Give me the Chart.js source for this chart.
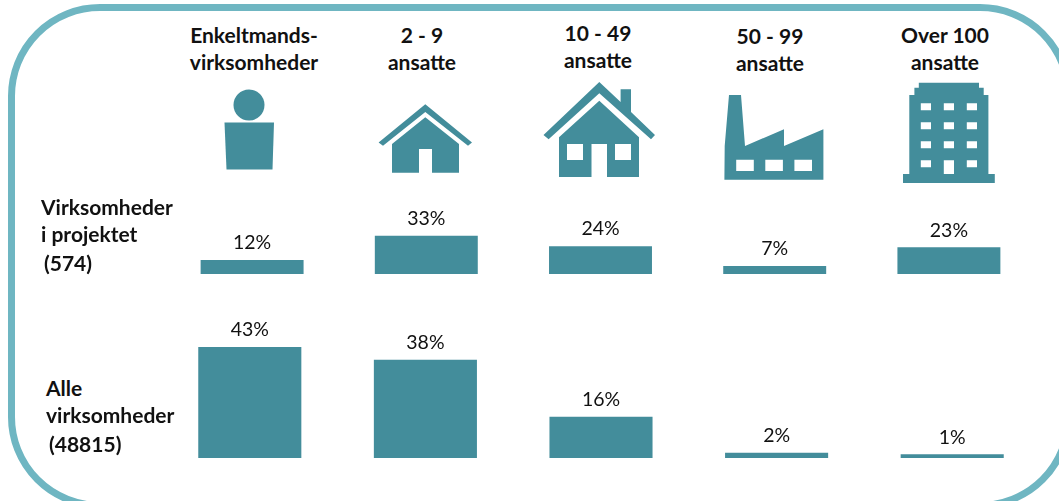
<!DOCTYPE html>
<html lang="da">
<head>
<meta charset="utf-8">
<title>Virksomheder i projektet</title>
<script src="https://cdn.jsdelivr.net/npm/chart.js@4/dist/chart.umd.min.js"></script>
<style>
  html, body { margin: 0; padding: 0; background: #fff; }
  body { position: relative; width: 1059px; height: 501px; overflow: hidden; font-family: Lato, sans-serif; color: #111; }
  #frame { position: absolute; left: 8px; top: 4px; width: 1064px; height: 505px; box-sizing: border-box;
           border: 7px solid #6fb6c2; border-radius: 92px; }
  canvas { position: absolute; }
  #icons { position: absolute; left: 0; top: 0; }
  .txt { position: absolute; font-weight: 700; font-size: 21px; line-height: 24px; white-space: nowrap; }
  .head { transform: translate(-50%, -50%); }
  .row { transform: translateY(-50%); }
</style>
</head>
<body>
<div id="frame"></div>

<!-- icons for the five size groups -->
<svg id="icons" width="1059" height="501" fill="#438d9b" aria-hidden="true">
  <!-- person -->
  <circle cx="249" cy="105" r="15.5"/>
  <path d="M224.5 122.5H274L272.5 169.5H226.5Z"/>
  <!-- small house -->
  <path d="M378.6 142.5L425.3 104.3L472 142.5L468 145.7L425.3 112L383 145.7Z"/>
  <path d="M425.3 117.3L459 144V172.7H432V149H419V172.7H392V144Z"/>
  <!-- big house -->
  <path d="M543.5 135L599.3 82L620.6 102V89.3H631V112L655 135L651 139.3L599.3 93.3L548.6 139.3Z"/>
  <path fill-rule="evenodd" d="M599.3 100.7L639 137.3V177H607V144H591.5V177H559V137.3Z M567 144H583V160H567Z M615 144H631V160H615Z"/>
  <!-- factory -->
  <path fill-rule="evenodd" d="M729 95H741L745 146L784 129.3V146L823.4 129.3V179.7H724.4L724.7 146Z M736.2 159.7H753.8V171H736.2Z M765.3 159.7H782.9V171H765.3Z M794.4 159.7H812V171H794.4Z"/>
  <!-- office block -->
  <path d="M903 174H994.8V183H903Z"/>
  <path fill-rule="evenodd" d="M918.8 82.7H979V87.7H983.7V95H988.4V174H909.3V95H914.4V87.7H918.8Z
    M920.8 103.3H931V110.3H920.8Z M943.8 103.3H954V110.3H943.8Z M966.8 103.3H977V110.3H966.8Z
    M920.8 122.3H931V129.3H920.8Z M943.8 122.3H954V129.3H943.8Z M966.8 122.3H977V129.3H966.8Z
    M920.8 141.3H931V148.3H920.8Z M943.8 141.3H954V148.3H943.8Z M966.8 141.3H977V148.3H966.8Z
    M920.8 160.3H931V167.3H920.8Z M943.8 160.3H954V174H943.8Z M966.8 160.3H977V167.3H966.8Z"/>
</svg>

<canvas id="projectChart" width="871" height="74" style="left:165px;top:200px"></canvas>
<canvas id="allChart" width="878" height="138" style="left:162px;top:320px"></canvas>

<script>
// category headers, one entry per column
const categories = [
  ["Enkeltmands-", "virksomheder"],
  ["2 - 9", "ansatte"],
  ["10 - 49", "ansatte"],
  ["50 - 99", "ansatte"],
  ["Over 100", "ansatte"]
];
const projectShare = [12, 33, 24, 7, 23];
const allShare = [43, 38, 16, 2, 1];
const projectRowLabel = ["Virksomheder", "i projektet", " (574)"];
const allRowLabel = ["Alle", "virksomheder", " (48815)"];

// layout of the text around the charts
const headX = [254, 422, 598, 770, 945];
const headY = [[35, 62], [35, 62], [33, 60], [36, 63], [35, 62]];

function addText(str, x, y, cls) {
  const el = document.createElement("div");
  el.className = "txt " + cls;
  el.textContent = str.trim();
  el.style.left = x + "px";
  el.style.top = y + "px";
  document.body.appendChild(el);
}

categories.forEach((lines, i) => {
  lines.forEach((line, j) => addText(line, headX[i], headY[i][j], "head"));
});
addText(projectRowLabel[0], 41, 207, "row");
addText(projectRowLabel[1], 41, 234, "row");
addText(projectRowLabel[2], 44, 263, "row");
addText(allRowLabel[0], 46, 388, "row");
addText(allRowLabel[1], 46, 415, "row");
addText(allRowLabel[2], 49, 444, "row");

// writes the percentage over each bar
const percentLabels = {
  id: "percentLabels",
  afterDatasetsDraw(chart) {
    const ctx = chart.ctx;
    const values = chart.data.datasets[0].data;
    ctx.save();
    ctx.font = "19.5px Lato, sans-serif";
    ctx.fillStyle = "#111";
    ctx.textAlign = "center";
    ctx.textBaseline = "middle";
    chart.getDatasetMeta(0).data.forEach((bar, i) => {
      ctx.fillText(values[i] + "%", bar.x, bar.y - 17);
    });
    ctx.restore();
  }
};

function makeChart(id, values, yMax, barShare, minLength) {
  return new Chart(document.getElementById(id), {
    type: "bar",
    data: {
      labels: categories.map((c) => c.join(" ")),
      datasets: [{
        data: values,
        backgroundColor: "#438d9b",
        barPercentage: 1,
        categoryPercentage: barShare,
        minBarLength: minLength
      }]
    },
    options: {
      responsive: false,
      animation: false,
      layout: { padding: 0 },
      plugins: { legend: { display: false }, tooltip: { enabled: false } },
      scales: {
        x: { display: false },
        y: { display: false, min: 0, max: yMax }
      }
    },
    plugins: [percentLabels]
  });
}

makeChart("projectChart", projectShare, 63.8, 0.591, 0);
makeChart("allChart", allShare, 53.4, 0.587, 3.7);
</script>
</body>
</html>
